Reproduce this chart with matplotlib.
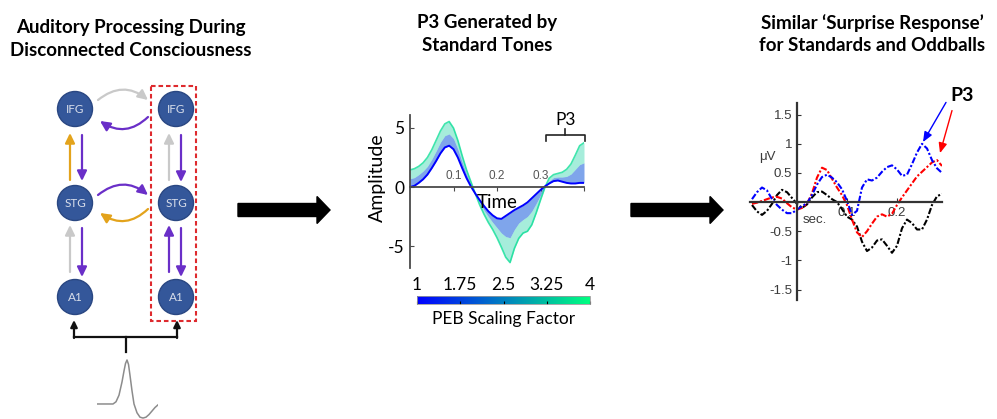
"""
Three-panel summary figure: network model of auditory processing during
disconnected consciousness, simulated P3 for standard tones, and measured
ERPs for standards and oddballs.
"""

import matplotlib
matplotlib.use('Agg')
import matplotlib.pyplot as plt
from matplotlib.patches import Circle, Rectangle, FancyArrowPatch
from matplotlib.colors import Normalize
from matplotlib.cm import ScalarMappable

W, H = 997, 419
FONT = 'Lato'
TICK_FONT = 'Liberation Sans'

# =============================================================================
# Data
# =============================================================================

PANEL_TITLES = [
    'Auditory Processing During\nDisconnected Consciousness',
    'P3 Generated by\nStandard Tones',
    'Similar \u2018Surprise Response\u2019\nfor Standards and Oddballs',
]

NODE_LABELS = ['IFG', 'STG', 'A1']

# stimulus waveform sketched under the network (arbitrary units)
STIM_T = [0, 16, 19, 22, 25, 27, 28.5, 30, 31.5, 33, 35, 37, 40, 43, 46,
          49, 52, 55, 58, 61]
STIM_V = [0, 0, 0.05, 0.2, 0.5, 0.75, 0.92, 1.0, 0.9, 0.65, 0.3, 0.0, -0.2,
          -0.3, -0.32, -0.3, -0.24, -0.16, -0.08, -0.02]

# middle panel: simulated response for PEB scaling factors 1, 2.5 and 4
SIM_TIME = [0.00, 0.01, 0.02, 0.03, 0.04, 0.05, 0.06, 0.07, 0.08, 0.09,
            0.10, 0.11, 0.12, 0.13, 0.14, 0.15, 0.16, 0.17, 0.18, 0.19,
            0.20, 0.21, 0.22, 0.23, 0.24, 0.25, 0.26, 0.27, 0.28, 0.29,
            0.30, 0.31, 0.32, 0.33, 0.34, 0.35, 0.36, 0.37, 0.38, 0.39, 0.40]
SIM_PEB1 = [0.0, 0.1, 0.35, 0.65, 1.05, 1.6, 2.2, 2.85, 3.35, 3.5,
            3.2, 2.5, 1.6, 0.75, 0.05, -0.55, -1.1, -1.6, -2.05, -2.4,
            -2.65, -2.7, -2.45, -2.2, -1.95, -1.75, -1.55, -1.3, -0.95, -0.6,
            -0.25, 0.05, 0.3, 0.5, 0.55, 0.45, 0.35, 0.3, 0.3, 0.35, 0.35]
SIM_PEB2_5 = [0.7, 0.8, 1.05, 1.35, 1.75, 2.35, 3.05, 3.8, 4.35, 4.5,
              4.1, 3.2, 2.1, 1.1, 0.25, -0.55, -1.3, -1.95, -2.5, -3.0,
              -3.45, -3.9, -4.2, -4.3, -3.6, -3.05, -2.75, -2.5, -2.05, -1.4,
              -0.7, 0.0, 0.5, 0.8, 0.85, 0.85, 0.9, 1.1, 1.5, 1.9, 2.05]
SIM_PEB4 = [1.45, 1.55, 1.75, 2.05, 2.5, 3.15, 3.95, 4.75, 5.35, 5.55,
            5.0, 3.95, 2.65, 1.45, 0.45, -0.55, -1.5, -2.3, -3.0, -3.6,
            -4.3, -5.1, -5.95, -6.4, -5.2, -4.35, -3.9, -3.75, -3.2, -2.2,
            -1.1, -0.05, 0.75, 1.05, 1.15, 1.25, 1.5, 1.95, 2.7, 3.5, 3.75]
SIM_LEVELS = [1, 2.5, 4]
SIM_XTICKS = [0.1, 0.2, 0.3, 0.4]
SIM_XTICKLABELS = ['0.1', '0.2', '0.3', '']
SIM_YTICKS = [-5, 0, 5]
CBAR_TICKS = [1, 1.75, 2.5, 3.25, 4]
CBAR_TICKLABELS = ['1', '1.75', '2.5', '3.25', '4']

# right panel: grand-average ERPs (sec, microvolts)
ERP_TIME = [-0.09, -0.08, -0.07, -0.06, -0.05, -0.04, -0.03, -0.02, -0.01,
            0.00, 0.01, 0.02, 0.03, 0.04, 0.05, 0.06, 0.07, 0.08, 0.09,
            0.10, 0.11, 0.12, 0.13, 0.14, 0.15, 0.16, 0.17, 0.18, 0.19,
            0.20, 0.21, 0.22, 0.23, 0.24, 0.25, 0.26, 0.27, 0.28, 0.29]
ERP_BLUE = [0.05, 0.17, 0.25, 0.2, 0.05, -0.05, -0.13, -0.19, -0.19,
            -0.13, -0.07, -0.02, 0.12, 0.3, 0.43, 0.47, 0.42, 0.34, 0.22,
            0.02, -0.22, -0.15, 0.25, 0.39, 0.37, 0.42, 0.52, 0.6, 0.63,
            0.56, 0.45, 0.47, 0.65, 0.85, 1.0, 0.92, 0.72, 0.58, 0.5]
ERP_RED = [-0.03, -0.01, 0.02, 0.05, 0.08, 0.09, 0.06, -0.02, -0.09,
           -0.13, -0.1, -0.03, 0.15, 0.42, 0.59, 0.55, 0.4, 0.25, 0.12,
           -0.05, -0.3, -0.52, -0.6, -0.5, -0.37, -0.25, -0.21, -0.25, -0.2,
           -0.05, 0.08, 0.2, 0.32, 0.44, 0.52, 0.6, 0.68, 0.72, 0.62]
ERP_BLACK = [-0.05, -0.16, -0.22, -0.15, -0.03, 0.12, 0.21, 0.17, 0.07,
             -0.03, -0.1, -0.04, 0.08, 0.17, 0.18, 0.12, 0.05, 0.0, -0.12,
             -0.25, -0.3, -0.42, -0.68, -0.84, -0.78, -0.66, -0.64, -0.75, -0.87,
             -0.75, -0.45, -0.3, -0.36, -0.47, -0.47, -0.3, -0.05, 0.1, 0.14]
ERP_YTICKS = [-1.5, -1, -0.5, 0.5, 1, 1.5]
ERP_YTICKLABELS = ['-1.5', '-1', '-0.5', '0.5', '1', '1.5']
ERP_XTICKS = [0.1, 0.2]
ERP_XTICKLABELS = ['0.1', '0.2']

# =============================================================================
# Helpers
# =============================================================================

def px_rect(x0, y0, x1, y1):
    """Pixel box (top-left origin) -> figure fraction rect."""
    return [x0 / W, 1 - y1 / H, (x1 - x0) / W, (y1 - y0) / H]


def arrow(ax, p0, p1, color, rad=0.0, lw=1.6, scale=13):
    ax.add_patch(FancyArrowPatch(
        p0, p1, arrowstyle='-|>,head_length=0.45,head_width=0.22',
        mutation_scale=scale, connectionstyle=f'arc3,rad={rad}',
        color=color, lw=lw, shrinkA=0, shrinkB=0, zorder=3))

# =============================================================================
# Panels
# =============================================================================

GRAY, PURPLE, GOLD = '#C9C9C9', '#6A2FC8', '#E3A31C'


def draw_network(ax):
    cols = [75, 176]
    rows = [109, 203, 297]
    for cx in cols:
        for cy, label in zip(rows, NODE_LABELS):
            ax.add_patch(Circle((cx, cy), 17.5, fc='#34579A', ec='#2A4782',
                                lw=1, zorder=4))
            ax.text(cx, cy, label, ha='center', va='center', color='#D8DEEA',
                    fontsize=8.5, family=FONT, zorder=5)

    # lateral connections
    arrow(ax, (98, 100), (148, 100), GRAY, rad=-0.4)
    arrow(ax, (148, 117), (100, 121), PURPLE, rad=-0.4)
    arrow(ax, (98, 195), (148, 195), PURPLE, rad=-0.4)
    arrow(ax, (148, 209), (100, 213), GOLD, rad=-0.4)

    # vertical connections
    arrow(ax, (70, 180), (70, 133), GOLD)
    arrow(ax, (82, 135), (82, 181), PURPLE)
    arrow(ax, (70, 272), (70, 225), GRAY)
    arrow(ax, (82, 228), (82, 277), PURPLE)
    arrow(ax, (169, 180), (169, 133), GRAY)
    arrow(ax, (181, 135), (181, 182), PURPLE)
    arrow(ax, (169, 272), (169, 225), PURPLE)
    arrow(ax, (181, 228), (181, 277), PURPLE)

    ax.add_patch(Rectangle((151, 86), 45, 235, fill=False, ec='#DE2A2E',
                           lw=1.5, ls=(0, (2.2, 1.4)), zorder=6))

    # input to both A1 nodes
    arrow(ax, (74, 338), (74, 320), '#111111', lw=1.6, scale=9)
    arrow(ax, (177, 338), (177, 320), '#111111', lw=1.6, scale=9)
    ax.plot([74, 177], [337, 337], color='#111111', lw=1.6)
    ax.plot([126, 126], [337, 352], color='#111111', lw=1.6)

    # big block arrows between panels
    for x0 in (238, 631):
        ax.arrow(x0, 210, 92, 0, width=13, head_width=27, head_length=13,
                 length_includes_head=True, fc='black', ec='black')


def draw_stimulus(fig):
    ax = fig.add_axes(px_rect(97, 358, 158, 420))
    ax.plot(STIM_T, STIM_V, color='#8C8C8C', lw=1.1)
    ax.set_xlim(0, 61)
    ax.set_ylim(-0.364, 1.045)
    ax.axis('off')


def draw_simulation(fig):
    ax = fig.add_axes(px_rect(410, 115, 584, 268))
    cmap = plt.get_cmap('winter')
    norm = Normalize(1, 4)
    curves = [SIM_PEB1, SIM_PEB2_5, SIM_PEB4]

    ax.fill_between(SIM_TIME, curves[0], curves[1], color=cmap(norm(1.9)),
                    alpha=0.5, lw=0)
    ax.fill_between(SIM_TIME, curves[1], curves[2], color=cmap(norm(3.4)),
                    alpha=0.35, lw=0)
    ax.plot(SIM_TIME, curves[2], color=cmap(norm(3.6)), lw=1.2, alpha=0.75)
    ax.plot(SIM_TIME, curves[0], color=cmap(norm(1)), lw=1.4)

    ax.set_xlim(0, 0.4)
    ax.set_ylim(-6.86, 6.10)
    for side in ('top', 'right'):
        ax.spines[side].set_visible(False)
    ax.spines['bottom'].set_position(('data', 0))
    for side in ('left', 'bottom'):
        ax.spines[side].set_color('#4a4a4a')
        ax.spines[side].set_linewidth(1.3)
    ax.set_xticks(SIM_XTICKS)
    ax.set_xticklabels([])
    ax.tick_params(axis='x', direction='out', length=3, color='#4a4a4a')
    for t, lab in zip(SIM_XTICKS, SIM_XTICKLABELS):
        ax.text(t, 0.45, lab, ha='center', va='bottom', fontsize=8.5,
                family=TICK_FONT, color='#555555')
    ax.set_yticks(SIM_YTICKS)
    ax.set_yticklabels([str(v) for v in SIM_YTICKS], family=FONT, fontsize=12.5)
    ax.tick_params(axis='y', direction='in', length=3, pad=4, color='#4a4a4a')
    ax.set_facecolor('none')

    ax.text(0.2, -1.3, 'Time', ha='center', va='center', fontsize=13.5,
            family=FONT)
    ax.text(-0.19, 0.588, 'Amplitude', transform=ax.transAxes, rotation=90,
            ha='center', va='center', fontsize=14, family=FONT)

    # P3 bracket
    ax.plot([0.313, 0.313, 0.402, 0.402], [3.9, 4.4, 4.4, 3.9], color='#222',
            lw=1.2, clip_on=False)
    ax.plot([0.357, 0.357], [4.4, 4.9], color='#222', lw=1.2, clip_on=False)
    ax.text(0.357, 5.0, 'P3', ha='center', va='bottom', fontsize=12.5,
            family=FONT, clip_on=False)

    cax = fig.add_axes(px_rect(417, 296, 590, 304))
    cb = fig.colorbar(ScalarMappable(norm=norm, cmap=cmap), cax=cax,
                      orientation='horizontal', ticks=CBAR_TICKS)
    cb.set_ticklabels(CBAR_TICKLABELS)
    cb.outline.set_edgecolor('#9a9a9a')
    cb.outline.set_linewidth(0.6)
    cax.tick_params(axis='x', direction='in', length=2, bottom=True, top=False,
                    labelbottom=False, labeltop=True, pad=2, labelsize=12.5)
    for lab in cax.get_xticklabels():
        lab.set_family(FONT)
    cax.text(0.503, -1.85, 'PEB Scaling Factor', transform=cax.transAxes,
             ha='center', va='center', fontsize=12.5, family=FONT)


def draw_erp(fig):
    ax = fig.add_axes(px_rect(750, 103, 942, 300))
    dash = (0, (3, 1, 1, 1))
    ax.plot(ERP_TIME, ERP_BLACK, color='black', lw=1.5, ls=dash)
    ax.plot(ERP_TIME, ERP_RED, color='red', lw=1.5, ls=dash)
    ax.plot(ERP_TIME, ERP_BLUE, color='blue', lw=1.5, ls=dash)

    ax.set_xlim(-0.094, 0.29)
    ax.set_ylim(-1.68, 1.70)
    for side in ('top', 'right'):
        ax.spines[side].set_visible(False)
    ax.spines['left'].set_position(('data', 0))
    ax.spines['bottom'].set_position(('data', 0))
    for side in ('left', 'bottom'):
        ax.spines[side].set_color('#333333')
        ax.spines[side].set_linewidth(1.6)
    ax.set_xticks(ERP_XTICKS)
    ax.set_xticklabels(ERP_XTICKLABELS)
    ax.set_yticks(ERP_YTICKS)
    ax.set_yticklabels(ERP_YTICKLABELS)
    ax.tick_params(direction='in', length=3, labelsize=9.5, labelcolor='#3a3a3a',
                   color='#333333')
    for lab in ax.get_xticklabels() + ax.get_yticklabels():
        lab.set_family(TICK_FONT)
    ax.set_facecolor('none')

    ax.text(-0.06, 0.77, '\u03bcV', ha='center', va='center', fontsize=9.5,
            family=TICK_FONT, color='#3a3a3a')
    ax.text(0.036, -0.31, 'sec.', ha='center', va='center', fontsize=9.5,
            family=TICK_FONT, color='#3a3a3a')

    ax.text(0.33, 1.83, 'P3', ha='center', va='center', fontsize=14,
            fontweight='bold', family=FONT, clip_on=False)
    ax.annotate('', xy=(0.252, 1.03), xytext=(0.298, 1.71),
                arrowprops=dict(arrowstyle='-|>,head_length=0.6,head_width=0.25',
                                color='blue', lw=1, mutation_scale=10,
                                shrinkA=0, shrinkB=0),
                annotation_clip=False)
    ax.annotate('', xy=(0.286, 0.84), xytext=(0.31, 1.57),
                arrowprops=dict(arrowstyle='-|>,head_length=0.6,head_width=0.25',
                                color='red', lw=1, mutation_scale=10,
                                shrinkA=0, shrinkB=0),
                annotation_clip=False)


def main():
    fig = plt.figure(figsize=(W / 100, H / 100), dpi=100)
    ax0 = fig.add_axes([0, 0, 1, 1])
    ax0.set_xlim(0, W)
    ax0.set_ylim(H, 0)
    ax0.axis('off')

    for cx, cy, title in zip([131, 487, 872], [39, 34, 34], PANEL_TITLES):
        ax0.text(cx, cy, title, ha='center', va='center', fontsize=13.5,
                 fontweight='bold', family=FONT, linespacing=1.38)

    draw_network(ax0)
    draw_stimulus(fig)
    draw_simulation(fig)
    draw_erp(fig)

    fig.savefig('out.png', dpi=100)


if __name__ == '__main__':
    main()
